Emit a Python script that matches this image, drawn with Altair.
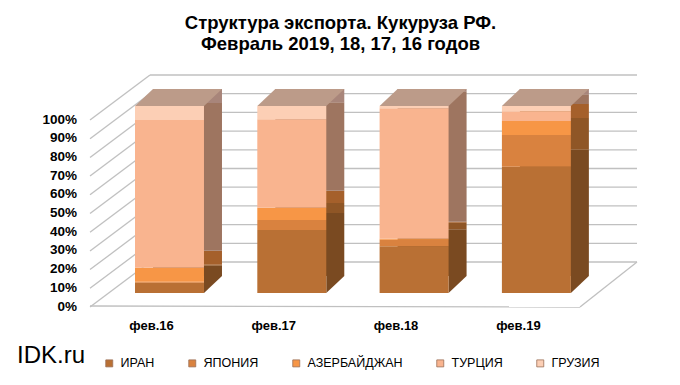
import altair as alt
import pandas as pd

# ---------------- data ----------------
categories = ["фев.16", "фев.17", "фев.18", "фев.19"]
series = ["ИРАН", "ЯПОНИЯ", "АЗЕРБАЙДЖАН", "ТУРЦИЯ", "ГРУЗИЯ"]
iran = [5.5, 33.7, 25.0, 67.5]
japan = [0.5, 5.3, 3.5, 17.0]
azerbaijan = [7.5, 6.6, 0.5, 7.5]
turkey = [79.0, 47.3, 69.8, 5.2]
georgia = [7.5, 7.1, 1.2, 2.8]
y_ticks = [0, 10, 20, 30, 40, 50, 60, 70, 80, 90, 100]
title_lines = ["Структура экспорта. Кукуруза РФ.", "Февраль 2019, 18, 17, 16 годов"]
brand = ["IDK.ru"]

# ---------------- styles ----------------
front_colors = ["#B97034", "#D9823F", "#F79646", "#F9B48F", "#FCCFB5"]
side_colors = ["#7A4A21", "#8F5626", "#A5602B", "#9E7560", "#A8857A"]
top_color = "#BC9B89"
grid_color = "#C0C0C0"
FONT = "Liberation Sans, Arial, sans-serif"

W, H = 547, 187          # plot area
DX, DY = 18, 17          # bar depth
BACK = 31                # back wall offset (px up)
FRONT = 13               # floor front edge offset (px down)
PI, PO, AL = 0.436, 0.4543, 0.405
step = W / (len(categories) - PI + 2 * PO)
half = step * (1 - PI) / 2
R = 2.0
SYM = (2 * R) ** 2

rows = []
for si, vals in enumerate([iran, japan, azerbaijan, turkey, georgia]):
    for c, v in zip(categories, vals):
        rows.append({"cat": c, "series": series[si], "idx": si, "value": v,
                     "side": side_colors[si]})
df = pd.DataFrame(rows)
ticks_df = pd.DataFrame({"tick": y_ticks})
brand_df = pd.DataFrame({"t": brand})

x_scale = alt.Scale(domain=categories, paddingInner=PI, paddingOuter=PO, align=AL)
y_scale = alt.Scale(domain=[0, 100], nice=False)

x_axis = alt.Axis(title=None, domain=False, ticks=False, grid=False, labelPadding=26,
                  labelOffset=-18, labelFont=FONT, labelFontSize=13,
                  labelFontWeight="bold", labelColor="#000000", labelAngle=0)

X = alt.X("cat:N", scale=x_scale, sort=categories, axis=x_axis)
YT = alt.Y("tick:Q", scale=y_scale, axis=None)

# back wall gridlines
grid = alt.Chart(ticks_df).mark_rule(color=grid_color, strokeWidth=1.3, yOffset=-BACK).encode(
    y=YT, x=alt.value(60), x2=alt.value(W),
)
# left wall diagonals
diag = alt.Chart(ticks_df).mark_rule(color=grid_color, strokeWidth=1.3,
                                     yOffset=FRONT + 1, y2Offset=-BACK).encode(
    y=YT, y2=alt.Y2("tick:Q"), x=alt.value(0), x2=alt.value(60),
)
# y tick labels (front edge of the left wall)
ylabels = alt.Chart(ticks_df).transform_calculate(
    lab="datum.tick + '%'").mark_text(
    align="right", baseline="middle", font=FONT, fontSize=13.5, fontWeight="bold",
    color="#000000", yOffset=FRONT + 0.5).encode(
    y=YT, x=alt.value(-13), text="lab:N")
# floor edges
floor_front = alt.Chart(ticks_df).transform_filter("datum.tick == 0").mark_rule(
    color=grid_color, strokeWidth=1.3, yOffset=FRONT, y2Offset=FRONT + 1).encode(
    y=YT, y2=alt.Y2("tick:Q"), x=alt.value(0), x2=alt.value(W - 57),
)
floor_right = alt.Chart(ticks_df).transform_filter("datum.tick == 0").mark_rule(
    color=grid_color, strokeWidth=1.3, yOffset=FRONT + 1, y2Offset=-BACK).encode(
    y=YT, y2=alt.Y2("tick:Q"), x=alt.value(W - 57), x2=alt.value(W),
)

# side faces (shifted stacked rects)
side = alt.Chart(df).mark_bar(xOffset=DX, yOffset=-DY, y2Offset=-DY).encode(
    x=X,
    y=alt.Y("value:Q", stack="zero", scale=y_scale, axis=None),
    fill=alt.Fill("side:N", scale=None),
    detail="series:N",
    order=alt.Order("idx:Q"),
)

bottom_path = f"M{half / R},0 L{half / R},{-DY / R} L{(half + DX) / R},{-DY / R} Z"
bottom_tri = alt.Chart(df).transform_aggregate(
    total="sum(value)", groupby=["cat"]).mark_point(
    shape=bottom_path, size=SYM, filled=True, fill=side_colors[0], opacity=1,
    strokeWidth=0).encode(x=X, y=alt.datum(0, scale=y_scale, axis=None))

top_path = (f"M{-half / R},0 L{half / R},0 L{(half + DX) / R},{-DY / R} "
            f"L{(-half + DX) / R},{-DY / R} Z")
top_face = alt.Chart(df).transform_aggregate(
    total="sum(value)", groupby=["cat"]).mark_point(
    shape=top_path, size=SYM, filled=True, fill=top_color, opacity=1,
    strokeWidth=0).encode(x=X, y=alt.Y("total:Q", scale=y_scale, axis=None))

front = alt.Chart(df).mark_bar().encode(
    x=X,
    y=alt.Y("value:Q", stack="zero", scale=y_scale, axis=None),
    color=alt.Color("series:N", scale=alt.Scale(domain=series, range=front_colors),
                    sort=series,
                    legend=alt.Legend(title=None, orient="none", direction="horizontal",
                                      legendX=13, legendY=251, padding=0,
                                      symbolType="square", symbolSize=49,
                                      symbolStrokeColor="#9A7058", symbolStrokeWidth=0.8,
                                      columnPadding=31, labelOffset=5,
                                      labelFont=FONT, labelFontSize=12.5,
                                      labelColor="#000000")),
    order=alt.Order("idx:Q"),
)

brand_text = alt.Chart(brand_df).mark_text(
    align="left", baseline="alphabetic", font=FONT, fontSize=24, color="#000000").encode(
    text="t:N", x=alt.value(-73), y=alt.value(257))

chart = alt.layer(diag, grid, floor_front, floor_right, ylabels, side, bottom_tri,
                  top_face, front, brand_text).properties(
    width=W, height=H,
    padding={"left": 82, "top": 98, "right": 35, "bottom": 84},
    autosize=alt.AutoSizeParams(type="none"),
    title=alt.TitleParams(text=title_lines, font=FONT, fontSize=18.5, fontWeight="bold",
                          color="#000000", anchor="middle", dx=-23, offset=21,
                          lineHeight=21),
    background="white",
).configure_view(stroke=None)

chart.save("out.html", embed_options={"renderer": "svg", "actions": False})
